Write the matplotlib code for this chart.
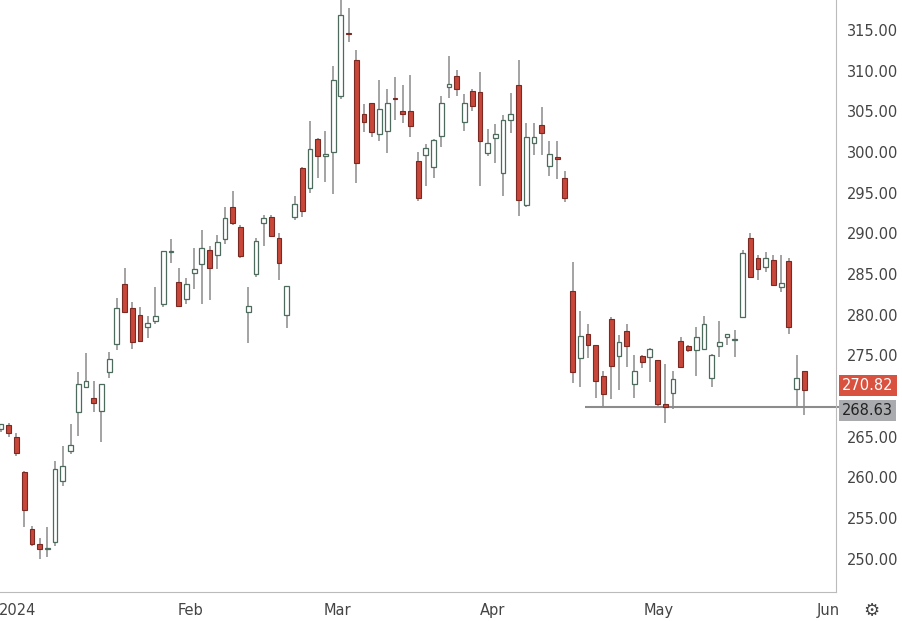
import matplotlib
matplotlib.use("Agg")
import matplotlib.pyplot as plt

opens = [265.9,266.4,265.0,260.6,253.6,251.8,251.2,252.1,259.5,263.2,268.0,271.1,269.8,268.2,273.0,276.4,283.8,280.8,280.0,278.5,
         279.2,281.3,287.7,284.0,281.9,285.1,286.2,288.0,287.3,289.3,293.2,290.8,280.3,285.0,291.3,292.0,289.4,280.0,292.0,298.0,
         295.6,301.6,299.5,300.0,306.9,314.6,311.3,304.7,306.0,302.2,302.6,306.6,305.0,305.0,298.9,299.6,298.2,302.0,308.0,309.3,
         303.7,307.5,307.4,299.9,301.7,297.4,304.0,308.2,293.5,301.1,303.3,298.3,299.4,296.8,282.9,274.7,277.6,276.3,272.5,279.5,
         274.9,278.0,271.5,274.9,274.8,274.4,269.0,270.4,276.8,276.2,275.6,275.8,272.2,276.1,277.3,276.9,279.7,289.4,287.0,285.9,
         286.7,283.4,286.6,270.9,273.1]
highs = [266.6,266.7,265.5,260.8,254.0,252.6,253.9,262.0,263.9,266.5,272.9,275.3,271.9,271.5,275.4,282.0,285.8,281.6,281.0,279.8,
         283.4,287.8,289.3,285.7,284.5,288.2,290.4,288.5,289.8,293.2,295.2,291.0,283.4,289.4,292.2,292.2,290.0,283.5,294.6,298.2,
         303.8,301.7,302.6,310.6,318.7,317.7,312.5,305.9,306.0,308.9,307.8,309.2,308.2,309.5,300.0,301.0,301.6,306.9,311.8,310.1,
         307.2,307.7,309.8,302.8,303.5,304.6,307.3,311.3,303.6,303.6,305.5,301.4,301.4,297.7,286.5,280.5,278.8,276.3,273.1,279.7,
         277.5,278.8,275.1,275.1,275.9,274.4,273.9,273.1,277.3,276.3,278.5,279.9,275.2,279.2,277.6,278.1,287.9,290.0,287.3,287.7,
         287.3,287.3,287.0,275.0,273.1]
lows = [265.6,265.0,262.6,253.9,251.5,249.9,250.2,251.6,258.9,262.9,265.1,271.1,268.0,264.3,272.2,275.6,280.2,275.8,276.8,277.1,
        278.8,281.0,286.3,281.0,281.3,283.2,281.3,281.8,285.6,288.7,291.0,287.0,276.5,284.6,288.5,289.5,284.3,278.4,291.6,292.0,
        295.0,296.8,296.3,294.8,306.5,313.5,296.2,302.5,301.9,301.4,299.9,303.9,303.6,301.9,294.0,295.8,296.8,300.6,306.6,306.9,
        302.6,305.0,295.8,299.5,298.7,294.6,302.3,292.1,293.2,299.6,299.6,297.1,296.7,293.8,271.6,271.1,274.7,269.8,268.7,269.6,
        270.8,273.6,269.8,273.5,271.7,268.7,266.7,268.4,273.6,275.4,272.5,275.8,271.1,274.8,276.3,274.8,279.7,284.6,284.3,285.2,
        283.6,282.8,277.6,268.6,267.7]
closes = [266.6,265.5,263.0,256.0,251.8,251.2,251.3,261.0,261.4,264.0,271.5,271.9,269.2,271.5,274.6,280.8,280.3,276.7,276.8,279.0,
          279.8,287.8,287.8,281.1,283.8,285.6,288.2,285.7,288.9,291.9,291.3,287.2,281.1,289.1,291.9,289.7,286.4,283.5,293.6,292.8,
          300.4,299.5,299.8,308.9,316.8,314.5,298.7,303.7,302.5,305.3,306.0,306.5,304.7,303.2,294.4,300.5,301.5,306.0,308.4,307.7,
          306.0,305.7,301.4,301.1,302.2,304.0,304.7,294.1,301.9,301.8,302.3,299.8,299.2,294.4,272.9,277.4,276.3,271.9,270.3,273.7,
          276.7,276.2,273.1,274.2,275.8,269.0,268.7,272.1,273.6,275.6,277.3,278.9,275.0,276.7,277.6,276.9,287.6,284.6,285.6,287.0,
          283.7,283.9,278.5,272.2,270.8]

month_labels = ["2024", "Feb", "Mar", "Apr", "May", "Jun"]
month_pos = [2.1, 24.5, 43.6, 63.6, 85.1, 107.1]
price_ticks = [250, 255, 260, 265, 275, 280, 285, 290, 295, 300, 305, 310, 315]
last_price = 270.82
support = 268.63
support_start = 75.6

RED = "#c8473a"
REDE = "#7a2a22"
GRN = "#4d6b5c"
WICK = "#8a8a8a"
YMIN, YMAX = 245.9, 318.7

fig = plt.figure(figsize=(9.03, 6.21), dpi=100)
ax = fig.add_axes([0, 0.0467, 0.9258, 0.9533])
x = list(range(len(opens)))
ax.vlines(x, lows, highs, color=WICK, lw=1.1, zorder=1)
for i in x:
    o, c = opens[i], closes[i]
    lo, hi = min(o, c), max(o, c)
    h = max(hi - lo, 0.12)
    if c < o:
        ax.bar(i, h, bottom=lo, width=0.62, color=RED, edgecolor=REDE, lw=0.8, zorder=2)
    else:
        ax.bar(i, h, bottom=lo, width=0.62, color="white", edgecolor=GRN, lw=0.9, zorder=2)

ax.hlines(support, support_start, 108.5, color="#8c8c8c", lw=1.5, zorder=0, clip_on=False)
ax.set_xlim(-0.13, 108.1)
ax.set_ylim(YMIN, YMAX)
for s in ["top", "left"]:
    ax.spines[s].set_visible(False)
ax.spines["right"].set_color("#bbbbbb")
ax.spines["bottom"].set_color("#bbbbbb")
ax.yaxis.tick_right()
ax.set_yticks(price_ticks)
ax.set_yticklabels([f"{v:.2f}" for v in price_ticks])
ax.tick_params(axis="y", length=0, pad=8, labelsize=10.5, labelcolor="#444444")
ax.set_xticks(month_pos)
ax.set_xticklabels(month_labels)
ax.tick_params(axis="x", length=0, pad=8, labelsize=10.5, labelcolor="#444444")

def frac(v):
    return (v - YMIN) / (YMAX - YMIN)

ax.text(1.007, frac(last_price) + 0.007, f"{last_price:.2f}", transform=ax.transAxes,
        ha="left", va="center", fontsize=10.5, color="white",
        bbox=dict(boxstyle="square,pad=0.22", fc="#d9513f", ec="none"))
ax.text(1.007, frac(support) - 0.006, f"{support:.2f}", transform=ax.transAxes,
        ha="left", va="center", fontsize=10.5, color="#222222",
        bbox=dict(boxstyle="square,pad=0.22", fc="#a9abae", ec="none"))
fig.text(0.965, 0.016, "\u2699", ha="center", va="center", fontsize=13, color="#444444")
fig.savefig("out.png", dpi=100, facecolor="white")
